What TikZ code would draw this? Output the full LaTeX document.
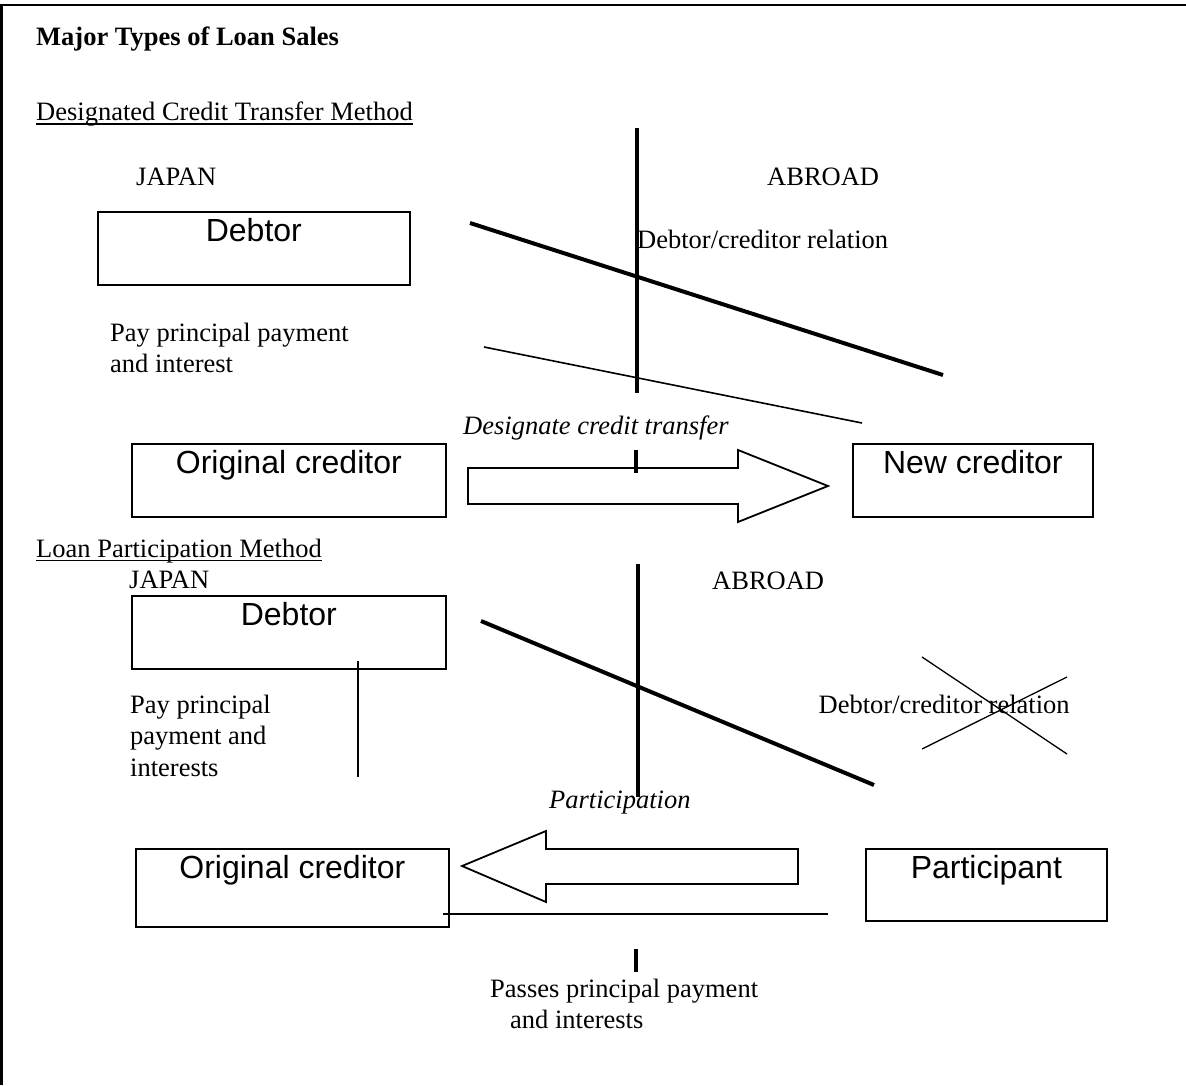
\documentclass[tikz,border=0pt]{standalone}
\usepackage{fontspec}
\setmainfont{Liberation Serif}
\newfontfamily\arialfont{Liberation Sans}
\begin{document}
\begin{tikzpicture}[x=1pt,y=-1pt,
  serif/.style={inner sep=0pt, anchor=base west, font=\fontsize{26.5}{31.5}\selectfont},
  box/.style={draw, line width=1.7pt, inner sep=0pt, anchor=north west,
    font=\arialfont\fontsize{32}{36}\selectfont, text height=30pt},
  thickline/.style={line width=4pt},
  divider/.style={line width=3.4pt},
  thinline/.style={line width=1.6pt},
  ulin/.style={line width=1.5pt},
  blockarrow/.style={draw, line width=1.8pt, fill=white, line join=miter},
]
\useasboundingbox (0,0) rectangle (1186,1085);
% frame
\coordinate (fbl) at (1.5,1085);
\coordinate (ftl) at (1.5,5);
\coordinate (ftr) at (1186,5);
\draw[line width=2.6pt] (fbl) -- (ftl) -- (ftr);

% ---------- texts ----------
\node[serif] (title) at (36,45) {\bfseries Major Types of Loan Sales};
\node[serif] (dct) at (36,120.5) {Designated Credit Transfer Method};
\draw[ulin] ([yshift=-3.5pt]dct.base west) -- ([yshift=-3.5pt]dct.base east);
\node[serif] (japanA) at (136,185) {JAPAN};
\node[serif] (abroadA) at (767,185) {ABROAD};
\node[serif] (relA) at (637,248.5) {Debtor/creditor relation};
\node[serif] (payA) at (110,341) {\begin{tabular}[t]{@{}l@{}}Pay principal payment\\and interest\end{tabular}};
\node[serif] (desig) at (463,434) {\itshape Designate credit transfer};

\node[serif] (lpm) at (36,557) {Loan Participation Method};
\draw[ulin] ([yshift=-3.5pt]lpm.base west) -- ([yshift=-3.5pt]lpm.base east);
\node[serif] (japanB) at (129,588) {JAPAN};
\node[serif] (abroadB) at (712,589) {ABROAD};
\node[serif] (relB) at (818.5,713) {Debtor/creditor relation};
\node[serif] (payB) at (130,713) {\begin{tabular}[t]{@{}l@{}}Pay principal\\payment and\\interests\end{tabular}};
\node[serif] (partic) at (549,808) {\itshape Participation};
\node[serif] (passes) at (490,997) {\begin{tabular}[t]{@{}l@{}}Passes principal payment\\\hspace*{20pt}and interests\end{tabular}};

% ---------- section 1 ----------
\node[box, minimum width=312pt, text depth=43pt] (debtorA) at (97,211) {Debtor};
\node[box, minimum width=314pt, text depth=43pt] (origA) at (131,443) {Original creditor};
\node[box, minimum width=240pt, text depth=43pt] (newA) at (852,443) {New creditor};

\coordinate (vA1) at (637,128); \coordinate (vA2) at (637,393);
\coordinate (vA3) at (636,450); \coordinate (vA4) at (636,473);
\draw[divider] (vA1) -- (vA2);
\coordinate (dA1) at (470,223); \coordinate (dA2) at (943,375);
\draw[thickline] (dA1) -- (dA2);
\coordinate (tA1) at (484,347); \coordinate (tA2) at (862,423);
\draw[thinline] (tA1) -- (tA2);
\draw[blockarrow] (468,468) -- (738,468) -- (738,450) -- (828,486) -- (738,522) -- (738,504) -- (468,504) -- cycle;
\draw[divider] (vA3) -- (vA4);

% ---------- section 2 ----------
\node[box, minimum width=314pt, text depth=43pt] (debtorB) at (131,595) {Debtor};
\node[box, minimum width=313pt, text depth=48pt] (origB) at (135,848) {Original creditor};
\node[box, minimum width=241pt, text depth=42pt] (partB) at (865,848) {Participant};

\coordinate (vB1) at (638,564); \coordinate (vB2) at (638,797);
\draw[divider] (vB1) -- (vB2);
\coordinate (vB3) at (636,949); \coordinate (vB4) at (636,972);
\draw[divider] (vB3) -- (vB4);
\coordinate (dB1) at (481,621); \coordinate (dB2) at (874,785);
\draw[thickline] (dB1) -- (dB2);
\coordinate (xA1) at (922,657); \coordinate (xA2) at (1067,754);
\coordinate (xB1) at (922,749); \coordinate (xB2) at (1067,677);
\draw[line width=1.3pt] (xA1) -- (xA2);
\draw[line width=1.3pt] (xB1) -- (xB2);
\coordinate (pB1) at (358,661); \coordinate (pB2) at (358,777);
\draw[thinline] (pB1) -- (pB2);
\coordinate (hB1) at (443,914); \coordinate (hB2) at (828,914);
\draw[line width=1.9pt] (hB1) -- (hB2);
\draw[blockarrow] (798,849) -- (546,849) -- (546,831) -- (462,866) -- (546,902) -- (546,884) -- (798,884) -- cycle;
\end{tikzpicture}
\end{document}
